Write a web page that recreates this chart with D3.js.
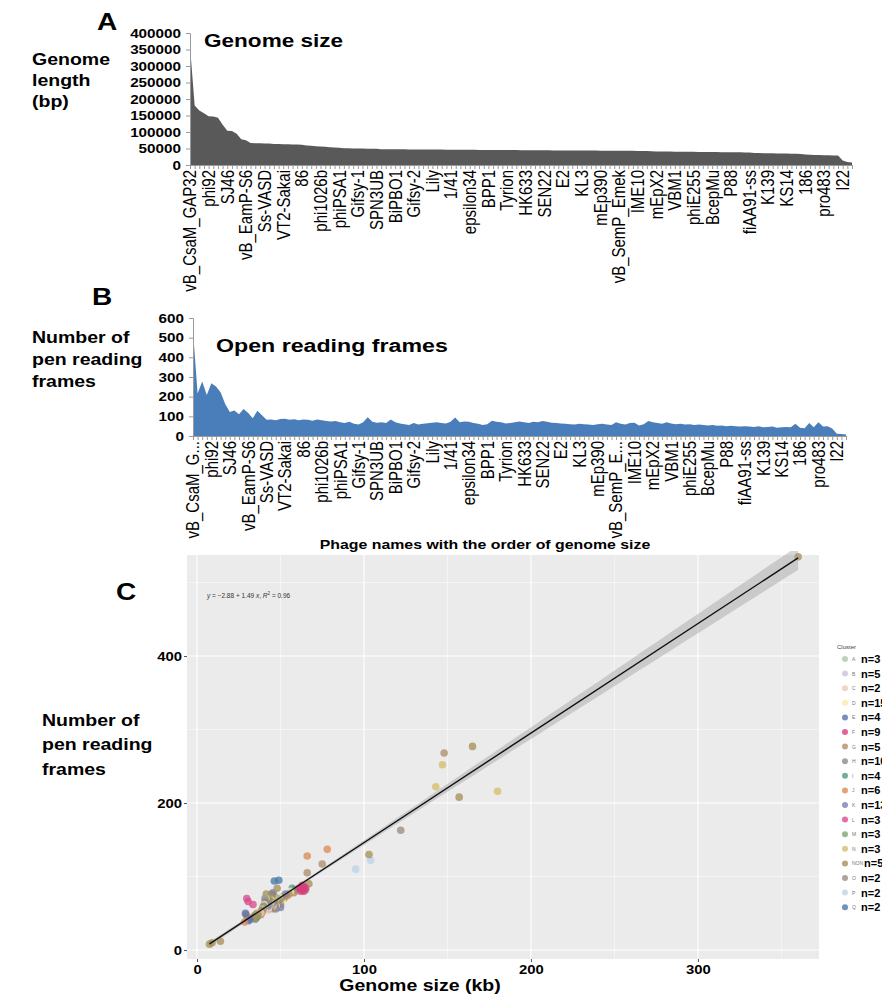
<!DOCTYPE html>
<html>
<head>
<meta charset="utf-8">
<script src="https://cdn.jsdelivr.net/npm/d3@7"></script>
<style>
  body { margin: 0; background: #fff; }
  text { font-family: "Liberation Sans", Arial, sans-serif; }
</style>
</head>
<body>
<svg id="chart" width="882" height="994"></svg>
<script>
// genome size (kb) of each phage, sorted from largest to smallest
const genomeKb = [
  360, 180, 165, 157, 148, 147, 143, 122, 104, 103,
  95, 78, 75, 67, 66, 66, 65, 65, 64, 64,
  63, 63, 62, 62, 61, 59, 58, 57, 56, 55,
  54, 53, 52, 51, 51, 50, 50, 50, 49, 49,
  49, 48, 48, 48, 47.8, 47.7, 47.4, 47.3, 47.1, 47,
  46.9, 46.9, 46.7, 46.6, 46.6, 46.4, 46.3, 46.3, 46.1, 46,
  46, 45.9, 45.8, 45.8, 45.6, 45.5, 45.5, 45.3, 45.2, 45.2,
  45.1, 45, 44.9, 44.9, 44.7, 44.6, 44.6, 44.5, 44.3, 44.3,
  44.2, 44.1, 44, 43.9, 43.9, 43.7, 43.7, 43.6, 43.4, 43.4,
  43.3, 43.1, 43.1, 43, 42.9, 42.9, 42.8, 42.6, 42.6, 41.5,
  41.2, 41, 40.8, 40.7, 40.5, 40.4, 40.2, 40, 39.9, 39.7,
  39.6, 39.4, 39.3, 39.1, 39, 38.8, 38.6, 38.5, 38.3, 38.1,
  38, 36.5, 36.2, 35.9, 35.6, 35.4, 35.1, 34.8, 34.5, 34.2,
  33.9, 33.5, 31.5, 31, 30.6, 30.2, 29.8, 29.4, 29, 28.5,
  14, 9, 7.5
];

// number of open reading frames, same phage order
const orfCounts = [
  535, 216, 277, 208, 268, 252, 222, 163, 122, 130,
  110, 137, 117, 90, 128, 105, 82, 84, 80, 86,
  88, 82, 85, 80, 84, 82, 78, 84, 80, 76,
  74, 76, 70, 66, 72, 62, 58, 70, 95, 72,
  68, 70, 66, 84, 70, 64, 60, 56, 66, 58,
  62, 65, 68, 70, 66, 64, 72, 94, 70, 74,
  72, 66, 62, 56, 60, 78, 72, 70, 64, 66,
  70, 74, 70, 66, 72, 70, 76, 72, 68, 66,
  64, 62, 60, 58, 62, 60, 58, 56, 60, 62,
  58, 56, 70, 62, 58, 66, 68, 54, 60, 76,
  70, 66, 62, 70, 64, 60, 62, 58, 60, 56,
  58, 56, 54, 56, 52, 54, 50, 52, 50, 48,
  50, 48, 46, 50, 44, 46, 48, 42, 44, 46,
  45, 62, 42, 40, 66, 44, 70, 48, 50, 38,
  12, 10, 8
];

// cluster of each phage, same order
const clusters = [
  'NON', 'N', 'NON', 'NON', 'G', 'N', 'N', 'O', 'P', 'NON',
  'P', 'J', 'G', 'NON', 'J', 'G', 'M', 'F', 'F', 'F',
  'F', 'F', 'F', 'F', 'F', 'F', 'NON', 'I', 'D', 'NON',
  'J', 'K', 'NON', 'D', 'H', 'NON', 'K', 'NON', 'Q', 'D',
  'NON', 'H', 'K', 'NON', 'A', 'NON', 'D', 'K', 'NON', 'H',
  'NON', 'B', 'D', 'NON', 'K', 'NON', 'H', 'Q', 'NON', 'G',
  'D', 'NON', 'K', 'NON', 'B', 'H', 'NON', 'D', 'K', 'NON',
  'I', 'NON', 'D', 'H', 'NON', 'J', 'K', 'NON', 'D', 'NON',
  'A', 'H', 'NON', 'K', 'D', 'NON', 'B', 'NON', 'H', 'D',
  'NON', 'K', 'M', 'NON', 'D', 'H', 'NON', 'C', 'K', 'NON',
  'D', 'NON', 'I', 'H', 'K', 'NON', 'D', 'B', 'NON', 'K',
  'O', 'NON', 'D', 'A', 'NON', 'NON', 'G', 'NON', 'B', 'NON',
  'C', 'NON', 'NON', 'J', 'NON', 'NON', 'M', 'I', 'NON', 'NON',
  'NON', 'L', 'E', 'E', 'L', 'E', 'L', 'NON', 'E', 'J',
  'NON', 'NON', 'NON'
];

// every fourth phage is labelled on the category axis
const phageLabels = [
  'vB_CsaM_GAP32', 'phi92', 'SJ46', 'vB_EamP-S6', 'Ss-VASD', 'VT2-Sakai', '86',
  'phi1026b', 'phiPSA1', 'Gifsy-1', 'SPN3UB', 'BiPBO1', 'Gifsy-2', 'Lily', '1/41',
  'epsilon34', 'BPP1', 'Tyrion', 'HK633', 'SEN22', 'E2', 'KL3', 'mEp390',
  'vB_SemP_Emek', 'IME10', 'mEpX2', 'VBM1', 'phiE255', 'BcepMu', 'P88',
  'fiAA91-ss', 'K139', 'KS14', '186', 'pro483', 'I22'
];

const clusterNames = ['A', 'B', 'C', 'D', 'E', 'F', 'G', 'H', 'I', 'J', 'K', 'L', 'M', 'N', 'NON', 'O', 'P', 'Q'];
const clusterColors = [
  '#a9c9a4', '#c9c1dd', '#ecc9b9', '#f3ebb3', '#5d70b1', '#d93d7b', '#b0906c', '#8c8c8c', '#4e9a88',
  '#dc8c58', '#7c80b0', '#d94c8c', '#7aaa6a', '#d6be6c', '#a89058', '#9c8c80', '#bcd4e8', '#4c78a8'
];

const sizeTicks = [0, 50000, 100000, 150000, 200000, 250000, 300000, 350000, 400000];
const orfTicks = [0, 100, 200, 300, 400, 500, 600];
const kbTicks = [0, 100, 200, 300];
const orfScatterTicks = [0, 200, 400];
const fitIntercept = -2.88;
const fitSlope = 1.49;

const svg = d3.select('#chart');
const SX = 1.22; // the figure text is a bit wider than it is tall

function stretch(sel, k = SX) {
  sel.each(function() {
    const t = d3.select(this);
    const x = +t.attr('x') || 0;
    const y = +t.attr('y') || 0;
    t.attr('transform', `translate(${x},${y}) scale(${k},1) translate(${-x},${-y})`);
  });
}

function label(x, y, str, size, weight = 'bold', anchor = 'start') {
  return svg.append('text')
    .attr('x', x).attr('y', y)
    .attr('font-size', size)
    .attr('font-weight', weight)
    .attr('text-anchor', anchor)
    .attr('fill', '#000')
    .text(str)
    .call(stretch);
}

function styleAxis(g) {
  g.select('.domain').attr('stroke', '#9a9a9a');
  g.selectAll('.tick line').attr('stroke', '#9a9a9a');
  g.selectAll('.tick text')
    .attr('font-size', 12.5)
    .attr('font-weight', 'bold')
    .attr('fill', '#000')
    .call(stretch);
}

function categoryPanel({ values, xRange, top, bottom, ticks, color, names }) {
  const x = d3.scalePoint().domain(d3.range(values.length)).range(xRange);
  const y = d3.scaleLinear().domain([0, d3.max(ticks)]).range([bottom, top]);
  const g = svg.append('g');

  g.append('path')
    .datum(values)
    .attr('fill', color)
    .attr('d', d3.area()
      .x((d, i) => x(i))
      .y0(y(0))
      .y1(d => y(d)));

  g.append('g')
    .attr('transform', `translate(${xRange[0]},0)`)
    .call(d3.axisLeft(y).tickValues(ticks).tickSize(4).tickPadding(5).tickFormat(d3.format('d')))
    .call(styleAxis);

  g.append('g')
    .attr('transform', `translate(0,${bottom})`)
    .call(d3.axisBottom(x).tickSize(4).tickFormat(''))
    .call(g => {
      g.select('.domain').attr('stroke', '#9a9a9a');
      g.selectAll('.tick line').attr('stroke', '#9a9a9a');
    });

  g.append('g')
    .selectAll('text')
    .data(names)
    .join('text')
    .attr('transform', (d, k) => `translate(${x(k * 4)},${bottom + 5}) scale(${SX},1) rotate(-90)`)
    .attr('text-anchor', 'end')
    .attr('dy', '0.35em')
    .attr('font-size', 15)
    .attr('fill', '#000')
    .text(d => d);
}

// A: genome size
categoryPanel({
  values: genomeKb.map(d => d * 1000),
  xRange: [190, 852], top: 33, bottom: 165,
  ticks: sizeTicks, color: '#595959',
  names: phageLabels
});
label(97, 30, 'A', 23);
label(32, 65, 'Genome', 16);
label(32, 86, 'length', 16);
label(32, 107, '(bp)', 16);
label(204, 47, 'Genome size', 18.5);

// B: open reading frames
categoryPanel({
  values: orfCounts,
  xRange: [193, 846], top: 318, bottom: 436,
  ticks: orfTicks, color: '#4a7ebb',
  names: phageLabels.map(d => d.length > 10 ? d.slice(0, 9) + '...' : d)
});
label(92, 305, 'B', 23);
label(32, 343, 'Number of', 16);
label(32, 365, 'pen reading', 16);
label(32, 387, 'frames', 16);
label(216, 352, 'Open reading frames', 19);
label(485, 549, 'Phage names with the order of genome size', 13, 'bold', 'middle');

// C: ORFs against genome size
const points = genomeKb.map((kb, i) => ({ kb, orf: orfCounts[i], cluster: clusters[i] }));
const color = d3.scaleOrdinal().domain(clusterNames).range(clusterColors);

// 0 kb at x=197 and 1.67 px per kb; 0 ORFs at y=950 and 0.735 px per ORF
const xC = d3.scaleLinear().domain([-6, 372.5]).range([187, 819]);
const yC = d3.scaleLinear().domain([-12.2, 537.4]).range([959, 555]);
const gC = svg.append('g');

gC.append('clipPath').attr('id', 'clipC')
  .append('rect')
  .attr('x', xC.range()[0]).attr('y', yC.range()[1] - 4)
  .attr('width', xC.range()[1] - xC.range()[0])
  .attr('height', yC.range()[0] - yC.range()[1] + 4);

gC.append('rect')
  .attr('x', xC.range()[0]).attr('y', yC.range()[1])
  .attr('width', xC.range()[1] - xC.range()[0])
  .attr('height', yC.range()[0] - yC.range()[1])
  .attr('fill', '#ebebeb');

const minorX = [50, 150, 250, 350];
const minorY = [100, 300, 500];
gC.append('g').selectAll('line').data(minorX).join('line')
  .attr('x1', d => xC(d)).attr('x2', d => xC(d))
  .attr('y1', yC.range()[0]).attr('y2', yC.range()[1])
  .attr('stroke', '#fff').attr('stroke-width', 0.5);
gC.append('g').selectAll('line').data(minorY).join('line')
  .attr('y1', d => yC(d)).attr('y2', d => yC(d))
  .attr('x1', xC.range()[0]).attr('x2', xC.range()[1])
  .attr('stroke', '#fff').attr('stroke-width', 0.5);
gC.append('g').selectAll('line').data(kbTicks).join('line')
  .attr('x1', d => xC(d)).attr('x2', d => xC(d))
  .attr('y1', yC.range()[0]).attr('y2', yC.range()[1])
  .attr('stroke', '#fff').attr('stroke-width', 1.1);
gC.append('g').selectAll('line').data(orfScatterTicks).join('line')
  .attr('y1', d => yC(d)).attr('y2', d => yC(d))
  .attr('x1', xC.range()[0]).attr('x2', xC.range()[1])
  .attr('stroke', '#fff').attr('stroke-width', 1.1);

// confidence band of the fit
const n = points.length;
const meanX = d3.mean(points, d => d.kb);
const sxx = d3.sum(points, d => (d.kb - meanX) ** 2);
const resid = Math.sqrt(d3.sum(points, d => (d.orf - fitIntercept - fitSlope * d.kb) ** 2) / (n - 2));
const [minKb, maxKb] = d3.extent(points, d => d.kb);
const bandX = d3.range(80).map(k => minKb + (maxKb - minKb) * k / 79);
const band = bandX.map(kb => {
  const fit = fitIntercept + fitSlope * kb;
  const half = 1.977 * resid * Math.sqrt(1 / n + (kb - meanX) ** 2 / sxx);
  return { kb, lo: fit - half, hi: fit + half };
});

const plotC = gC.append('g').attr('clip-path', 'url(#clipC)');

plotC.append('g').selectAll('circle')
  .data(points)
  .join('circle')
  .attr('cx', d => xC(d.kb))
  .attr('cy', d => yC(d.orf))
  .attr('r', 3.8)
  .attr('fill', d => color(d.cluster))
  .attr('fill-opacity', 0.78);

plotC.append('path')
  .datum(band)
  .attr('fill', '#999')
  .attr('fill-opacity', 0.4)
  .attr('d', d3.area().x(d => xC(d.kb)).y0(d => yC(d.lo)).y1(d => yC(d.hi)));

plotC.append('path')
  .datum([minKb, maxKb])
  .attr('fill', 'none')
  .attr('stroke', '#111')
  .attr('stroke-width', 1.4)
  .attr('d', d3.line().x(d => xC(d)).y(d => yC(fitIntercept + fitSlope * d)));

const eq = gC.append('text')
  .attr('x', 207).attr('y', 598)
  .attr('font-size', 6.5)
  .attr('fill', '#333');
eq.append('tspan').attr('font-style', 'italic').text('y');
eq.append('tspan').text(' = \u22122.88 + 1.49 ');
eq.append('tspan').attr('font-style', 'italic').text('x');
eq.append('tspan').text(', ');
eq.append('tspan').attr('font-style', 'italic').text('R');
eq.append('tspan').attr('font-size', 4.5).attr('dy', -3).text('2');
eq.append('tspan').attr('dy', 3).text(' = 0.96');

gC.append('g')
  .attr('transform', `translate(0,${yC.range()[0]})`)
  .call(d3.axisBottom(xC).tickValues(kbTicks).tickSize(3).tickPadding(2))
  .call(g => {
    g.select('.domain').remove();
    g.selectAll('.tick line').attr('stroke', '#555');
    g.selectAll('.tick text').attr('font-size', 13.5).attr('font-weight', 'bold').attr('fill', '#000').call(stretch, 1.1);
  });

gC.append('g')
  .attr('transform', `translate(${xC.range()[0]},0)`)
  .call(d3.axisLeft(yC).tickValues(orfScatterTicks).tickSize(3).tickPadding(2))
  .call(g => {
    g.select('.domain').remove();
    g.selectAll('.tick line').attr('stroke', '#555');
    g.selectAll('.tick text').attr('font-size', 13.5).attr('font-weight', 'bold').attr('fill', '#000').call(stretch, 1.1);
  });

label(116, 600, 'C', 23);
label(42, 726, 'Number of', 16);
label(42, 750, 'pen reading', 16);
label(42, 775, 'frames', 16);
label(420, 991, 'Genome size (kb)', 16, 'bold', 'middle');

// legend
const counts = d3.rollup(points, v => v.length, d => d.cluster);
const leg = svg.append('g');
leg.append('text')
  .attr('x', 837).attr('y', 649)
  .attr('font-size', 6).attr('fill', '#444')
  .text('Cluster');
const rows = leg.selectAll('g')
  .data(clusterNames)
  .join('g')
  .attr('transform', (d, i) => `translate(0,${659 + i * 14.6})`);
rows.append('circle')
  .attr('cx', 845).attr('cy', 0).attr('r', 3)
  .attr('fill', d => color(d)).attr('fill-opacity', 0.8);
rows.append('text')
  .attr('x', 852).attr('y', 2)
  .attr('font-size', 5).attr('fill', '#777')
  .text(d => d);
rows.append('text')
  .attr('x', d => d === 'NON' ? 864 : 861).attr('y', 4)
  .attr('font-size', 11).attr('font-weight', 'bold').attr('fill', '#000')
  .text(d => `n=${counts.get(d) || 0}`);
</script>
</body>
</html>
